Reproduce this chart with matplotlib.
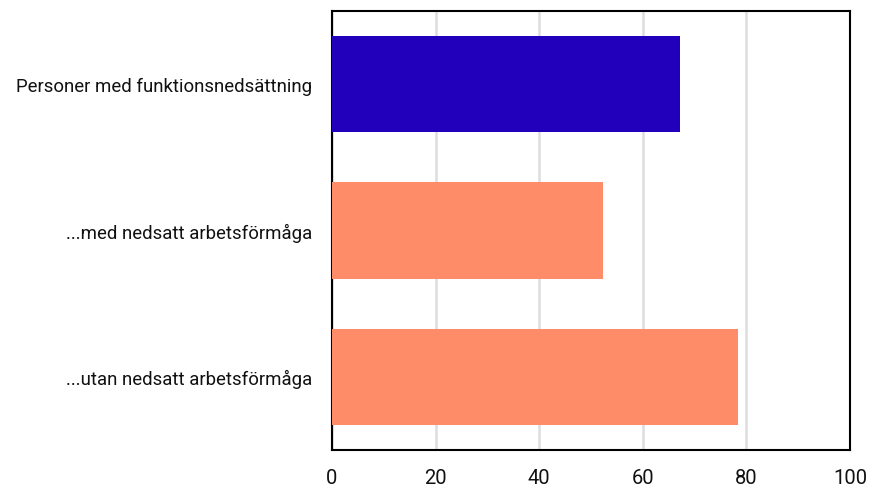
import matplotlib
matplotlib.use("Agg")
import matplotlib.pyplot as plt

categories = ["Personer med funktionsnedsättning",
              "...med nedsatt arbetsförmåga",
              "...utan nedsatt arbetsförmåga"]
values = [67.2, 52.3, 78.3]
colors = ["#2200BB", "#FF8C69", "#FF8C69"]
xticks = [0, 20, 40, 60, 80, 100]

plt.rcParams['font.family'] = ['Roboto', 'DejaVu Sans']
fig = plt.figure(figsize=(8.7, 4.89), dpi=100)
ax = fig.add_axes([332/870, 1-451/489, (850-332)/870, (451-12)/489])

y = list(range(len(categories)))
ax.barh(y, values, height=0.66, color=colors, zorder=3)
ax.set_ylim(len(categories)-0.5, -0.5)
ax.set_xlim(0, 100)
ax.set_xticks(xticks)
ax.set_xticklabels([str(t) for t in xticks], fontsize=14.5, color="#111111")
ax.set_yticks(y)
ax.set_yticklabels(categories, fontsize=13.4, color="#111111")
ax.tick_params(axis='x', length=0, pad=13)
ax.tick_params(axis='y', length=0, pad=14.5)
ax.grid(axis='x', color="#dddddd", linewidth=1.8, zorder=0)
for s in ax.spines.values():
    s.set_color("black")
    s.set_linewidth(1.5)

fig.savefig("out.png", dpi=100)
